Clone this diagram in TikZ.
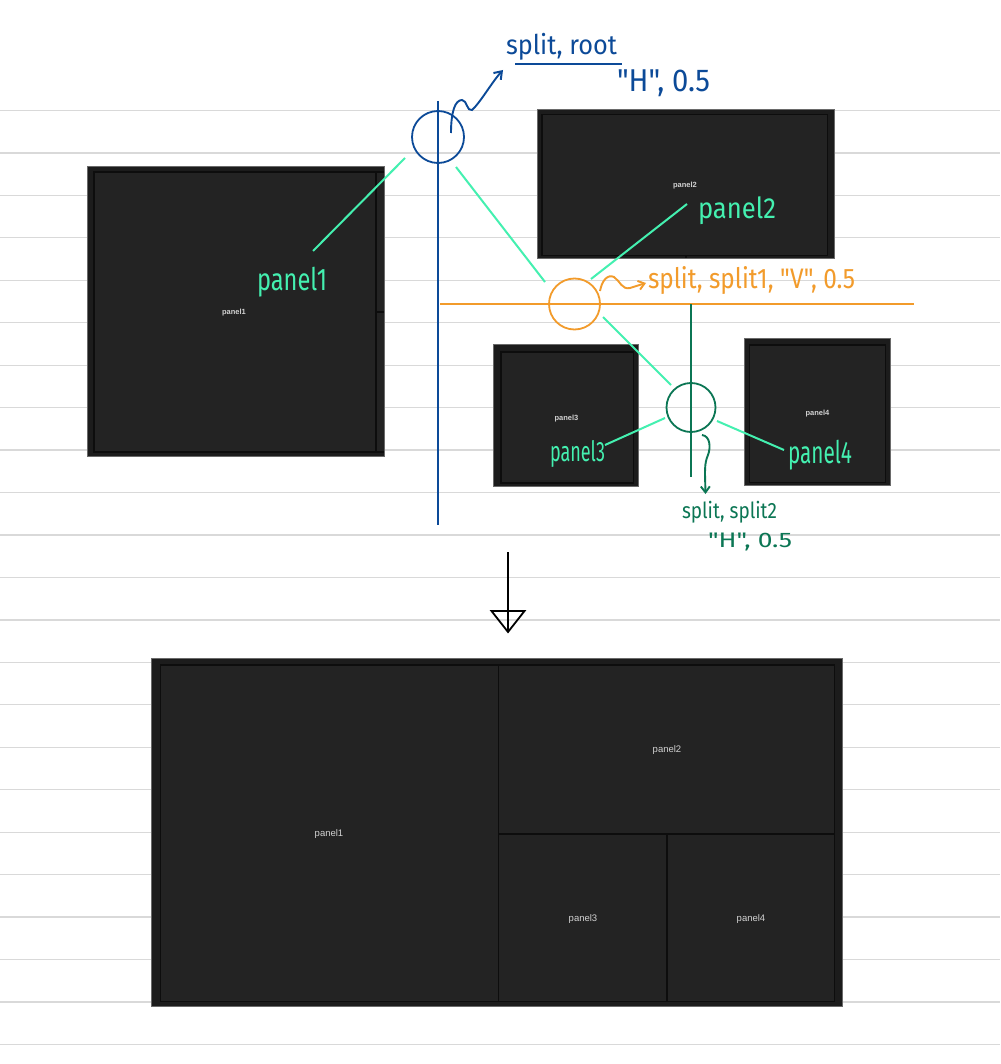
\documentclass[tikz,border=0pt]{standalone}
\usepackage{fontspec}
\setmainfont{Liberation Sans}
\newfontfamily\handfont{Fira Sans}
\usetikzlibrary{arrows.meta}
\definecolor{rulec}{HTML}{D9D9D9}
\definecolor{bluec}{HTML}{0C4A98}
\definecolor{orangec}{HTML}{F29B2B}
\definecolor{dgreenc}{HTML}{0B7654}
\definecolor{mintc}{HTML}{44F0B0}
\definecolor{panelc}{HTML}{232323}
\definecolor{framec}{HTML}{1C1C1C}
\definecolor{edgec}{HTML}{6A6A6A}
\definecolor{labelc}{HTML}{D2D2D2}
\newcommand\hwbox[3]{\resizebox*{#1pt}{#2pt}{#3}}
\begin{document}
\begin{tikzpicture}[x=1pt,y=-1pt,
  rulestyle/.style={rulec,line width=1.3pt},
  outerframe/.style={fill=framec,draw=edgec,line width=0.8pt},
  innerfill/.style={fill=panelc},
  innerline/.style={draw=black!95,line width=1.3pt},
  plabel/.style={text=labelc,font=\bfseries\fontsize{7.5}{8}\selectfont,inner sep=0pt},
  blabel/.style={text=labelc,font=\fontsize{9.5}{10}\selectfont,inner sep=0pt},
  hand/.style={inner sep=0pt,font=\handfont\fontsize{20}{22}\selectfont},
  ring/.style={circle,draw,line width=1.8pt,inner sep=0pt},
  pen/.style={line width=1.9pt},
  mint/.style={mintc,line width=2pt}]
\useasboundingbox (0,0) rectangle (1000,1064);
\fill[white] (0,0) rectangle (1000,1064);
% ruled lines
\foreach \i in {0,...,22} \draw[rulestyle] (0,110.5+42.45*\i) -- (1000,110.5+42.45*\i);

% ---------- panel 1 (top) ----------
\fill[outerframe] (87,166.5) rectangle (384,456);
\fill[innerfill] (94,172) rectangle (384,452);
\draw[innerline] (384,172) -- (94,172) -- (94,452) -- (384,452);
\draw[innerline] (376,172) -- (376,452);
\draw[innerline] (376,312) -- (384,312);
\node[plabel] (p1lab) at (234,313) {panel1};

% ---------- panel 2 (top) ----------
\fill[outerframe] (537.5,109.5) rectangle (834,258.5);
\fill[innerfill] (542,114.5) rectangle (827.5,255.5);
\draw[innerline] (542,114.5) rectangle (827.5,255.5);
\draw[innerline] (686,255.5) -- (686,258.5);
\node[plabel] (p2lab) at (685,186) {panel2};

% ---------- panel 3 (top) ----------
\fill[outerframe] (493.5,344) rectangle (638.5,486);
\fill[innerfill] (501,352) rectangle (633.5,483);
\draw[innerline] (501,352) rectangle (633.5,483);
\node[plabel] (p3lab) at (566.5,418.5) {panel3};

% ---------- panel 4 (top) ----------
\fill[outerframe] (744,338) rectangle (890.5,485);
\fill[innerfill] (749.5,345) rectangle (885.5,482.5);
\draw[innerline] (749.5,345) rectangle (885.5,482.5);
\node[plabel] (p4lab) at (817.5,414) {panel4};

% ---------- blue split (root) ----------
\coordinate (btop) at (438,101);
\coordinate (bbot) at (438,525);
\draw[bluec,pen] (btop) -- (bbot);
\node[ring,draw=bluec,minimum size=52pt] (broot) at (438,137) {};
\coordinate (bs) at (451,133);
\coordinate (be) at (503,70);
\draw[bluec,pen,-{Straight Barb[length=7pt,width=10pt,line width=2pt]}]
  (bs) .. controls (451,112) and (455,100) .. (462,100)
       .. controls (467,100) and (467,112) .. (472,110)
       .. controls (480,103) and (492,82) .. (be);
\node[hand,text=bluec] (broottxt) at (561.5,46.5) {\hwbox{111}{27}{split, root}};
\coordinate (ul1) at (515,64);
\coordinate (ul2) at (622,64);
\draw[bluec,pen] (ul1) -- (ul2);
\node[hand,text=bluec] (bparam) at (663.5,83.5) {\hwbox{93}{27}{"H", 0.5}};

% ---------- orange split (split1) ----------
\coordinate (ol) at (440,304);
\coordinate (or) at (914,304);
\draw[orangec,pen] (ol) -- (or);
\node[ring,draw=orangec,minimum size=51pt] (osplit) at (574.5,304) {};
\coordinate (os) at (600,291);
\coordinate (oe) at (646,283);
\draw[orangec,pen,-{Straight Barb[length=6pt,width=9pt,line width=1.9pt]}]
  (os) .. controls (602,280) and (608,274) .. (614,277)
       .. controls (620,281) and (622,290) .. (630,288) -- (oe);
\node[hand,text=orangec] (otxt) at (751.5,281) {\hwbox{207}{28}{split, split1, "V", 0.5}};

% ---------- dark green split (split2) ----------
\coordinate (gt) at (691,304);
\coordinate (gb) at (691,477);
\draw[dgreenc,pen] (gt) -- (gb);
\node[ring,draw=dgreenc,minimum size=49pt] (gsplit) at (691,407.5) {};
\coordinate (gs) at (702,435);
\coordinate (ge) at (705.5,494);
\draw[dgreenc,pen,-{Straight Barb[length=6pt,width=9pt,line width=1.9pt]}]
  (gs) .. controls (710,436) and (711,447) .. (708,455)
       .. controls (704,464) and (705,472) .. (ge);
\node[hand,text=dgreenc] (gtxt1) at (729.5,512.5) {\hwbox{95}{22}{split, split2}};
\node[hand,text=dgreenc] (gtxt2) at (750,542) {\hwbox{84}{18}{"H", 0.5}};

% ---------- mint annotations ----------
\node[hand,text=mintc] (m1) at (292,282) {\hwbox{70}{30}{panel1}};
\node[hand,text=mintc] (m2) at (737,211) {\hwbox{78}{28}{panel2}};
\node[hand,text=mintc] (m3) at (577.5,453.5) {\hwbox{55}{27}{panel3}};
\node[hand,text=mintc] (m4) at (820,455) {\hwbox{64}{30}{panel4}};
\coordinate (a1) at (405,158);  \coordinate (a1e) at (313,251);
\coordinate (a2) at (456,167);  \coordinate (a2e) at (545,282);
\coordinate (a3) at (591,279);  \coordinate (a3e) at (687,204);
\coordinate (a4) at (603,317);  \coordinate (a4e) at (671,385);
\coordinate (a5) at (665,418);  \coordinate (a5e) at (605,445);
\coordinate (a6) at (717,421);  \coordinate (a6e) at (784,450);
\draw[mint] (a1) -- (a1e);
\draw[mint] (a2) -- (a2e);
\draw[mint] (a3) -- (a3e);
\draw[mint] (a4) -- (a4e);
\draw[mint] (a5) -- (a5e);
\draw[mint] (a6) -- (a6e);

% ---------- big arrow ----------
\coordinate (arrtop) at (508,552);
\coordinate (arrtip) at (508,632);
\draw[black,line width=1.8pt] (arrtop) -- (arrtip);
\draw[black,line width=1.8pt,line join=miter] (491.5,611) -- (524.5,611) -- (arrtip) -- cycle;

% ---------- bottom combined panel ----------
\fill[outerframe] (151.5,658.5) rectangle (842.5,1006.5);
\fill[innerfill] (160.5,665) rectangle (834.5,1001.5);
\draw[innerline] (160.5,665) rectangle (834.5,1001.5);
\draw[innerline] (498.5,665) -- (498.5,1001.5);
\draw[innerline] (498.5,834) -- (834.5,834);
\draw[innerline] (667,834) -- (667,1001.5);
\node[blabel] (b1) at (329,834.5) {panel1};
\node[blabel] (b2) at (667,750) {panel2};
\node[blabel] (b3) at (583,919) {panel3};
\node[blabel] (b4) at (751,919) {panel4};
\end{tikzpicture}
\end{document}
